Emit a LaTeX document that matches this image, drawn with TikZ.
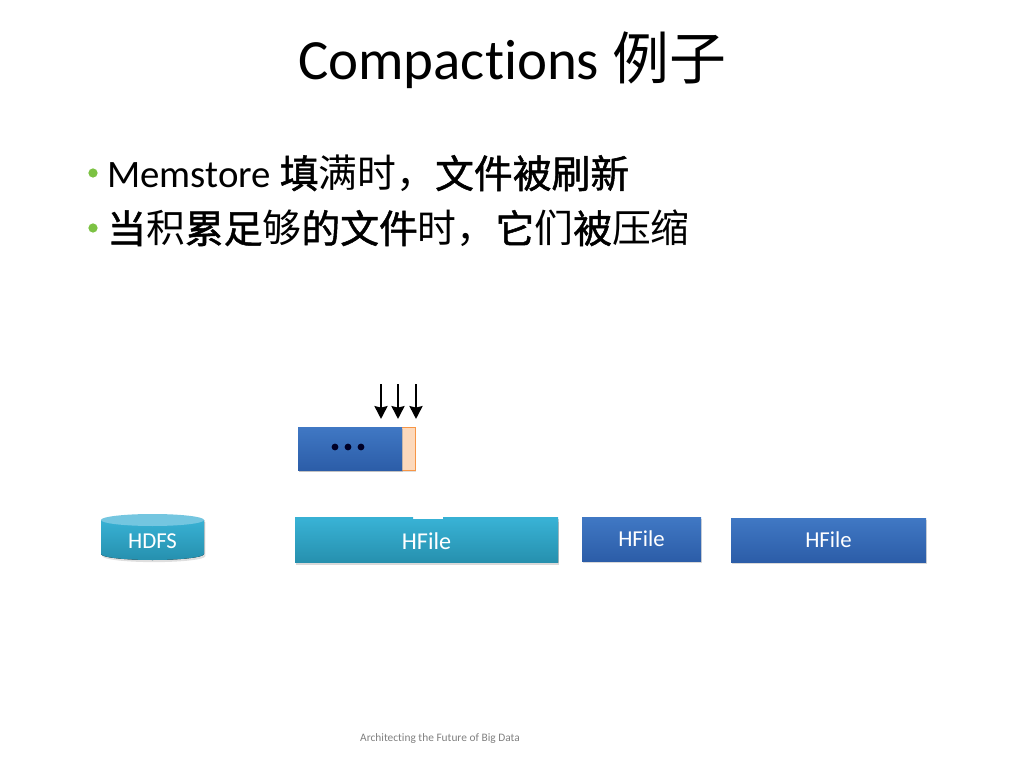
\documentclass[tikz,border=0pt]{standalone}
\usepackage{fontspec}
\setmainfont[Ligatures=CommonOff]{Carlito}
\newfontfamily\cjk{Noto Sans CJK SC}
\newfontfamily\cjkb[FakeBold=1.3]{Noto Sans CJK SC}
\usetikzlibrary{shadows,arrows.meta}

\definecolor{hblue}{HTML}{4078C4}
\definecolor{hbluedark}{HTML}{2C5DA8}
\definecolor{hteal}{HTML}{38B1D4}
\definecolor{htealdark}{HTML}{2690AE}
\definecolor{htealtop}{HTML}{74C6E0}
\definecolor{morange}{HTML}{F79646}
\definecolor{mpeach}{HTML}{FCD9BC}
\definecolor{bgreen}{HTML}{7CC243}

\newcommand{\bz}[1]{{\cjkb #1}}

\tikzset{
  bluebox/.style={rectangle, top color=hblue, bottom color=hbluedark, draw=none,
    drop shadow={opacity=0.3, shadow xshift=1pt, shadow yshift=-1.5pt},
    text=white, font=\fontsize{16}{18}\selectfont},
  tealbox/.style={bluebox, top color=hteal, bottom color=htealdark},
  bulletdot/.style={circle, fill=bgreen, inner sep=0pt, minimum size=6.5pt},
  bullettext/.style={anchor=base west, inner sep=0pt, font=\fontsize{27.3}{31}\selectfont},
}

\begin{document}
\begin{tikzpicture}[x=0.703125pt, y=-0.703125pt]
\useasboundingbox (0,0) rectangle (1024,768);

% title:
\node (title) at (512,60) {\fontsize{40}{44}\selectfont Compactions {\cjk 例子}};

% bullets:
\node[bulletdot] (b1) at (93,173) {};
\node[bullettext] (l1) at (107,188) {Memstore {\cjk\bz{填}满时，\bz{文件被刷新}}};
\node[bulletdot] (b2) at (93,228) {};
\node[bullettext] (l2) at (107,243) {\cjk \bz{当}积\bz{累足}够\bz{的文件}时，\bz{它}们\bz{被}压缩};

% memstore with flushes coming in:
\node[rectangle, draw=morange, fill=mpeach, minimum width=117pt*0.703125, minimum height=43pt*0.703125,
  drop shadow={opacity=0.25, shadow xshift=1pt, shadow yshift=-1.5pt}] (mem) at (356.5,448.5) {};
\node[bluebox, minimum width=104pt*0.703125, minimum height=43pt*0.703125, drop shadow={opacity=0}] (memfill) at (350,448.5) {};
\foreach \x in {335,348,361}
  \fill[black!85!blue] (\x,447) circle (3.4);

\foreach \x [count=\i] in {381,398,416} {
  \coordinate (in\i) at (\x,384);
  \coordinate (out\i) at (\x,419);
  \draw[-{Stealth[length=9pt,width=9pt,inset=1pt]}, line width=2pt] (in\i) -- (out\i);
}

% hfiles on disk:
\node[tealbox, minimum width=118pt*0.703125, minimum height=44pt*0.703125] (hold1) at (354,539) {};
\node[tealbox, minimum width=115pt*0.703125, minimum height=44pt*0.703125] (hold2) at (500.5,539) {};
\node[tealbox, minimum width=263pt*0.703125, minimum height=43pt*0.703125, font=\fontsize{17}{19}\selectfont] (hbig) at (426.5,541) {HFile};
\node[bluebox, minimum width=119pt*0.703125, minimum height=44pt*0.703125] (hf2) at (641.5,539) {HFile};
\node[bluebox, minimum width=195pt*0.703125, minimum height=44pt*0.703125] (hf3) at (828.5,540) {HFile};

% hdfs:
\fill[top color=hteal, bottom color=htealdark, drop shadow={opacity=0.25, shadow xshift=1pt, shadow yshift=-1.5pt}]
  (101,520) -- (101,554) arc[start angle=180, end angle=0, x radius=51.5, y radius=6] -- (204,520) -- cycle;
\fill[htealtop] (152.5,520) ellipse[x radius=51.5, y radius=6];
\node[text=white, font=\fontsize{16}{18}\selectfont] (hdfs) at (152.5,541) {HDFS};

% footer:
\node[text=black!50, font=\fontsize{8}{9}\selectfont] (foot) at (440,739) {Architecting the Future of Big Data};

\end{tikzpicture}
\end{document}
